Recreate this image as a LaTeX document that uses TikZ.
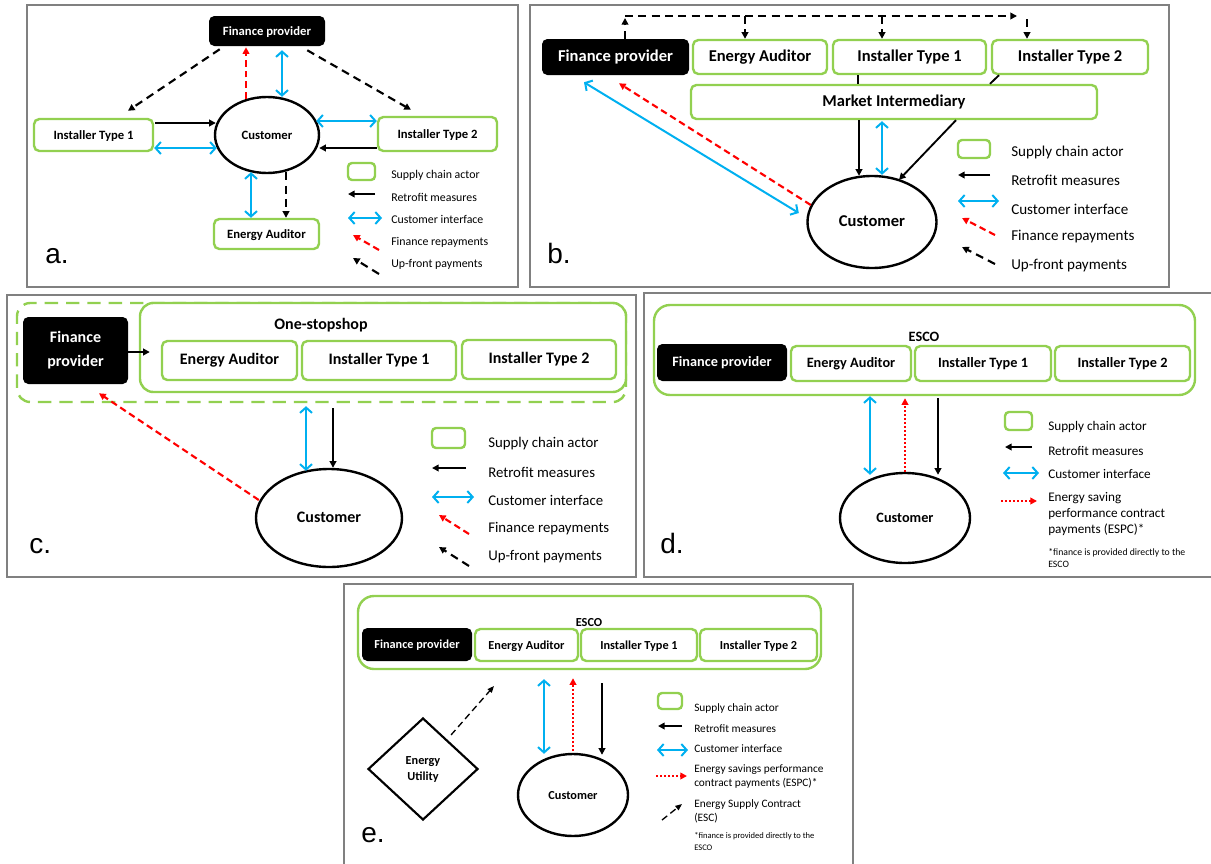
\documentclass[tikz,border=0pt]{standalone}
\usepackage{fontspec}
\setmainfont{Carlito}
\newfontfamily\lblfont{Liberation Sans}
\usetikzlibrary{arrows.meta,shapes.geometric,calc}
\definecolor{sgreen}{HTML}{92D050}
\definecolor{sblue}{HTML}{00B0F0}
\definecolor{sred}{HTML}{FF0000}
\definecolor{pgray}{HTML}{808080}
\newcommand\fsz[2]{\fontsize{#1}{#2}\selectfont}
% box node from corner coordinates: style, name, x1, y1, x2, y2, text
\newcommand\bx[7]{\node[#1,minimum width={(#5-#3)*0.75pt},minimum height={(#6-#4)*0.75pt}] (#2) at ({(#3+#5)/2},{(#4+#6)/2}) {#7};}
\begin{document}
\begin{tikzpicture}[x=0.75pt,y=-0.75pt,
  panel/.style={draw=pgray,line width=1.1pt},
  gbox/.style={draw=sgreen,line width=1.8pt,rounded corners=4pt,fill=white,inner sep=0pt},
  fbox/.style={fill=black,text=white,rounded corners=4pt,inner sep=0pt},
  cust/.style={draw,ellipse,line width=1.8pt,inner sep=0pt},
  ctr/.style={text height=0.78em,text depth=0.16em},
  ret/.style={line width=1.4pt,-{Triangle[length=5pt,width=5pt]}},
  plain/.style={line width=1.4pt},
  ci/.style={draw=sblue,line width=1.5pt,{Straight Barb[length=4pt,width=9pt]}-{Straight Barb[length=4pt,width=9pt]}},
  fin/.style={draw=sred,line width=1.6pt,dash pattern=on 5pt off 3pt,-{Triangle[length=5pt,width=5pt]}},
  upf/.style={line width=1.6pt,dash pattern=on 6pt off 4pt,-{Triangle[length=5pt,width=5pt]}},
  espc/.style={draw=sred,line width=1.4pt,dash pattern=on 1.5pt off 1.5pt,-{Triangle[length=5pt,width=5pt]}},
  esc/.style={line width=1pt,dash pattern=on 5pt off 3pt,-{Triangle[length=5pt,width=4pt]}},
  legbox/.style={draw=sgreen,line width=1.8pt,rounded corners=3pt},
  leg/.style={anchor=west,inner sep=0pt,align=left},
  lbl/.style={anchor=base west,inner sep=0pt,font=\lblfont\fsz{21}{24}},
  fa/.style={ctr,font=\bfseries\fsz{9.5}{11}},
  fb/.style={ctr,font=\bfseries\fsz{12.4}{14}},
  fc/.style={ctr,font=\bfseries\fsz{12}{14}},
  fd/.style={ctr,font=\bfseries\fsz{10.7}{12.5}},
  fe/.style={ctr,font=\bfseries\fsz{9.2}{11}},
  la/.style={leg,font=\fsz{8.9}{10.5}},
  lb/.style={leg,font=\fsz{11.3}{13.5}},
  lc/.style={leg,font=\fsz{11.1}{13.3}},
  ld/.style={leg,font=\fsz{9.9}{12.3}},
  le/.style={leg,font=\fsz{8.5}{10.5}},
]
\useasboundingbox (0,0) rectangle (1211,864);
\fill[white] (0,0) rectangle (1211,864);

%%%%%%%%%%%%%%%% Panel a
\draw[panel] (27,5) rectangle (518,287);
\bx{fbox,fa}{fpa}{209}{16}{325}{46}{Finance provider}
\bx{gbox,fa}{it1a}{34}{119}{153}{151}{Installer Type 1}
\bx{gbox,fa}{it2a}{378}{117}{497}{151}{Installer Type 2}
\bx{gbox,fa}{eaa}{214}{219}{319}{249}{Energy Auditor}
\node[cust,fa,minimum width=104*0.75pt,minimum height=76*0.75pt] (cua) at (267,135) {Customer};
\draw[upf] ($(fpa.south west)+(11,3)$) -- ($(it1a.north)+(34.5,-7)$);
\draw[upf] ($(fpa.south east)+(-18,4)$) -- ($(it2a.north)+(-26.5,-6)$);
\draw[fin] ($(cua.north)+(-21,3)$) -- ($(fpa.south)+(-21,1)$);
\draw[ci] ($(fpa.south)+(15,4)$) -- ($(cua.north)+(15,1)$);
\draw[ret] ($(it1a.east)+(1,-12)$) -- ($(cua.west)+(2,-12)$);
\draw[ci] ($(it1a.east)+(0,13)$) -- ($(cua.west)+(3,13)$);
\draw[ci] ($(cua.east)+(-4,-14)$) -- ($(it2a.west)+(0,-13)$);
\draw[ret] ($(it2a.west)+(0,14)$) -- ($(cua.east)+(-1,13)$);
\draw[ci] ($(cua.south)+(-16,-2)$) -- ($(eaa.north)+(-15.5,0)$);
\draw[upf] ($(cua.south)+(19,-2)$) -- ($(eaa.north)+(19.5,0)$);
\draw[legbox] (348,163) rectangle (375,180);
\draw[ret] (375,194) -- (348,194);
\draw[ci] (348,218) -- (382,218);
\draw[fin] (379,250) -- (353,235);
\draw[upf] (379,274) -- (353,258);
\node[la] (la1) at (391,175) {Supply chain actor};
\node[la] (la2) at (391,197) {Retrofit measures};
\node[la] (la3) at (391,219) {Customer interface};
\node[la] (la4) at (391,242) {Finance repayments};
\node[la] (la5) at (391,264) {Up-front payments};
\node[lbl] (lba) at (45,263) {a.};

%%%%%%%%%%%%%%%% Panel b
\draw[panel] (530,5) rectangle (1169,287);
\bx{fbox,fb}{fpb}{542}{39}{689}{75}{Finance provider}
\bx{gbox,fb}{eab}{693}{40}{827}{74}{Energy Auditor}
\bx{gbox,fb}{it1b}{833}{40}{986}{74}{Installer Type 1}
\bx{gbox,fb}{it2b}{992}{40}{1148}{74}{Installer Type 2}
\bx{gbox,fb}{mib}{691}{85}{1097}{119}{Market Intermediary}
\node[cust,fb,minimum width=129*0.75pt,minimum height=92*0.75pt] (cub) at (872,222) {Customer};
\coordinate (tlb) at (625,16);
\coordinate (trb) at (1017,16);
\draw[upf] ($(fpb.north)+(9.5,0)$) -- ($(tlb)+(0,2)$);
\draw[upf] (tlb) -- (trb);
\draw[upf] ($(tlb)+(120,0)$) -- ($(eab.north)+(-15,0)$);
\draw[upf] ($(tlb)+(257,0)$) -- ($(it1b.north)+(-27.5,0)$);
\draw[upf] ($(tlb)+(402,3)$) -- ($(it2b.north)+(-43,0)$);
\draw[plain] ($(it1b.south)+(-51.5,0)$) -- ($(mib.north)+(-36,0)$);
\draw[plain] ($(it2b.south)+(-71,0)$) -- ($(mib.north)+(96,0)$);
\draw[ret] ($(mib.south)+(-35,0)$) -- ($(cub.north)+(-13,1)$);
\draw[ci] ($(mib.south)+(-12,1)$) -- ($(cub.north)+(10,0)$);
\draw[ret] ($(mib.south)+(62,0)$) -- ($(cub.north)+(27,5)$);
\draw[ci] ($(fpb.south)+(-31.5,7)$) -- ($(cub.west)+(-7.5,-9)$);
\draw[fin] ($(cub.west)+(4.5,-17)$) -- ($(fpb.south)+(3.5,8)$);
\draw[legbox] (958,140) rectangle (990,158);
\draw[ret] (990,175) -- (958,175);
\draw[ci] (958,201) -- (999,201);
\draw[fin] (995,235) -- (962,218);
\draw[upf] (995,264) -- (962,247);
\node[lb] (lb1) at (1011,152) {Supply chain actor};
\node[lb] (lb2) at (1011,180) {Retrofit measures};
\node[lb] (lb3) at (1011,209) {Customer interface};
\node[lb] (lb4) at (1011,237) {Finance repayments};
\node[lb] (lb5) at (1011,266) {Up-front payments};
\node[lbl] (lbb) at (547,263) {b.};

%%%%%%%%%%%%%%%% Panel c
\draw[panel] (7,295) rectangle (636,577);
\bx{draw=sgreen,line width=1.8pt,dash pattern=on 10pt off 6pt,rounded corners=10pt,inner sep=0pt}{osd}{17}{303}{626}{402}{}
\bx{gbox,rounded corners=10pt}{osc}{140}{303}{626}{392}{}
\node[fc,inner sep=0pt] (osl) at (321,325) {One-stopshop};
\bx{fbox,align=center,font=\bfseries\fsz{12}{18}}{fpc}{23}{317}{128}{384}{Finance\\provider}
\bx{gbox,fc}{eac}{162}{341}{297}{380}{Energy Auditor}
\bx{gbox,fc}{it1c}{302}{341}{456}{380}{Installer Type 1}
\bx{gbox,fc}{it2c}{462}{340}{616}{379}{Installer Type 2}
\node[cust,fc,minimum width=146*0.75pt,minimum height=98*0.75pt] (cuc) at (329,518) {Customer};
\draw[ret] ($(fpc.east)+(0,1.5)$) -- ($(eac.west)+(-11,-8.5)$);
\draw[ci] ($(osd.south)+(-15.5,3)$) -- ($(cuc.north)+(-23,3)$);
\draw[ret] ($(osd.south)+(11.5,5)$) -- ($(cuc.north)+(4,0)$);
\draw[fin] ($(cuc.west)+(4,-18)$) -- ($(fpc.south)+(23.5,9)$);
\draw[legbox] (432,428) rectangle (465,448);
\draw[ret] (466,468) -- (432,468);
\draw[ci] (432,497) -- (474,497);
\draw[fin] (469,534) -- (439,515);
\draw[upf] (469,566) -- (439,547);
\node[lc] (lc1) at (488,444) {Supply chain actor};
\node[lc] (lc2) at (488,472) {Retrofit measures};
\node[lc] (lc3) at (488,500) {Customer interface};
\node[lc] (lc4) at (488,529) {Finance repayments};
\node[lc] (lc5) at (488,557) {Up-front payments};
\node[lbl] (lbc) at (29,553) {c.};

%%%%%%%%%%%%%%%% Panel d
\draw[panel] (644,293) rectangle (1220,577);
\bx{gbox,rounded corners=12pt}{escod}{654}{305}{1195}{395}{}
\node[fd,inner sep=0pt] (escodl) at (924,337) {ESCO};
\bx{fbox,fd}{fpd}{657}{344}{787}{381}{Finance provider}
\bx{gbox,fd}{ead}{791}{346}{911}{381}{Energy Auditor}
\bx{gbox,fd}{it1d}{915}{346}{1051}{381}{Installer Type 1}
\bx{gbox,fd}{it2d}{1055}{346}{1190}{381}{Installer Type 2}
\node[cust,fd,minimum width=130*0.75pt,minimum height=90*0.75pt] (cud) at (905,518) {Customer};
\draw[ci] ($(escod.south)+(-54.5,0)$) -- ($(cud.north)+(-35,3)$);
\draw[espc] (cud.north) -- ($(escod.south)+(-19.5,2)$);
\draw[ret] ($(escod.south)+(13.5,2)$) -- ($(cud.north)+(33,3)$);
\draw[legbox] (1005,412) rectangle (1032,430);
\draw[ret] (1032,447) -- (1005,447);
\draw[ci] (1003,473) -- (1039,473);
\draw[espc] (1001,501) -- (1037,501);
\node[ld] (ld1) at (1048,427) {Supply chain actor};
\node[ld] (ld2) at (1048,451) {Retrofit measures};
\node[ld] (ld3) at (1048,474) {Customer interface};
\node[ld] (ld4) at (1048,514) {Energy saving\\performance contract\\payments (ESPC)*};
\node[leg,font=\fsz{7.3}{9}] (ld5) at (1048,558) {*finance is provided directly to the\\ESCO};
\node[lbl] (lbd) at (660,553) {d.};

%%%%%%%%%%%%%%%% Panel e
\draw[panel] (344,584) rectangle (853,880);
\bx{gbox,rounded corners=12pt}{escoe}{358}{596}{821}{669}{}
\node[fe,inner sep=0pt] (escoel) at (589,622) {ESCO};
\bx{fbox,fe}{fpe}{362}{628}{472}{661}{Finance provider}
\bx{gbox,fe}{eae}{475}{629}{578}{661}{Energy Auditor}
\bx{gbox,fe}{it1e}{581}{629}{697}{661}{Installer Type 1}
\bx{gbox,fe}{it2e}{700}{629}{817}{661}{Installer Type 2}
\node[draw,diamond,line width=1.6pt,inner sep=0pt,minimum width=110*0.75pt,minimum height=102*0.75pt,align=center,font=\bfseries\fsz{9.2}{12}] (eue) at (423,769) {Energy\\Utility};
\node[cust,fe,minimum width=110*0.75pt,minimum height=82*0.75pt] (cue) at (573,795) {Customer};
\coordinate (esce) at (494,686);
\draw[esc] ($(eue.north east)+(0,-8)$) -- (esce);
\draw[ci] ($(escoe.south)+(-45.5,9)$) -- ($(cue.north)+(-29,1)$);
\draw[espc] ($(cue.north)+(0,-2)$) -- ($(escoe.south)+(-16.5,8)$);
\draw[ret] ($(escoe.south)+(12.5,13)$) -- ($(cue.north)+(29,2)$);
\draw[legbox] (658,693) rectangle (682,709);
\draw[ret] (682,726) -- (658,726);
\draw[ci] (657,750) -- (688,750);
\draw[espc] (656,776) -- (687,776);
\draw[esc] (662,820) -- (682,804);
\node[le] (le1) at (694,708) {Supply chain actor};
\node[le] (le2) at (694,729) {Retrofit measures};
\node[le] (le3) at (694,749) {Customer interface};
\node[le] (le4) at (694,777) {Energy savings performance\\contract payments (ESPC)*};
\node[le] (le5) at (694,811) {Energy Supply Contract\\(ESC)};
\node[leg,font=\fsz{6.4}{8.3}] (le6) at (694,841.5) {*finance is provided directly to the\\ESCO};
\node[lbl] (lbe) at (361,842) {e.};
\end{tikzpicture}
\end{document}
